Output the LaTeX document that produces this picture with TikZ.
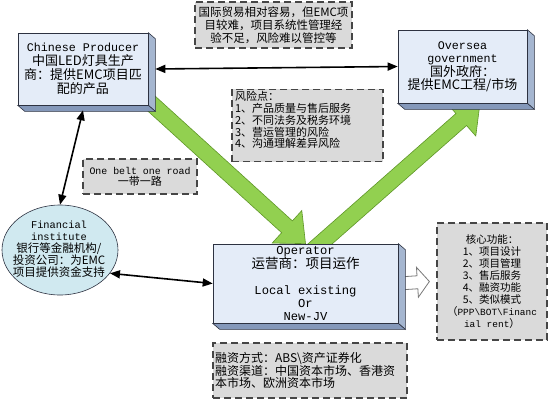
\documentclass[tikz,border=0pt]{standalone}
\usepackage{fontspec}
\setmonofont[Scale=0.9]{Liberation Mono}
\newfontfamily\cjk{Noto Sans CJK SC}
\usetikzlibrary{arrows.meta, shapes.geometric, calc, backgrounds}
\definecolor{boxFront}{RGB}{228,236,248}
\definecolor{sideRight}{RGB}{165,182,208}
\definecolor{sideBottom}{RGB}{132,152,186}
\definecolor{boxEdge}{RGB}{45,50,65}
\definecolor{noteGray}{RGB}{218,218,218}
\definecolor{noteEdge}{RGB}{70,70,70}
\definecolor{finCyan}{RGB}{208,233,240}
\definecolor{arrowGreen}{RGB}{146,208,80}
\definecolor{arrowEdge}{RGB}{95,150,40}
\definecolor{hollowEdge}{RGB}{120,120,120}

\newcommand{\en}[1]{{\ttfamily #1}}
\newcommand{\fsz}[2]{\fontsize{#1}{#2}\selectfont}
% fat arrow: style, tail, tip, half shaft, half head, head length
\newcommand{\fatarrow}[6]{%
  \coordinate (hb) at ($(#3)!#6!(#2)$);
  \filldraw[#1] ($(#2)!#4!90:(#3)$) -- ($(hb)!#4!90:(#3)$) -- ($(hb)!#5!90:(#3)$)
    -- (#3) -- ($(hb)!#5!-90:(#3)$) -- ($(hb)!#4!-90:(#3)$) -- ($(#2)!#4!-90:(#3)$) -- cycle;
}

\begin{document}
\begin{tikzpicture}[x=1pt, y=-1pt,
    slab/.style={draw=boxEdge, fill=boxFront, line width=0.6pt, inner sep=2pt, align=center},
    note/.style={draw=noteEdge, fill=noteGray, line width=1.2pt, dash pattern=on 7pt off 4pt, inner sep=2pt},
    conn/.style={line width=1.6pt, {Triangle[length=10pt,width=8pt]}-{Triangle[length=10pt,width=8pt]}},
    fat/.style={fill=arrowGreen, draw=arrowEdge, line width=0.6pt},
    hollow/.style={fill=white, draw=hollowEdge, line width=0.8pt}]
  \useasboundingbox (0,0) rectangle (550,405);

  % the three parties
  \node[slab, minimum width=130pt, minimum height=72pt, font={\cjk\fsz{13}{14}}] (prod) at (83,69)
    {\en{Chinese Producer}\\中国LED灯具生产\\商：提供EMC项目匹\\配的产品};
  \node[slab, minimum width=129pt, minimum height=73pt, font={\cjk\fsz{13}{13.5}}] (oversea) at (462.5,66.5)
    {\en{Oversea}\\\en{government}\\国外政府：\\提供EMC工程/市场};
  \node[slab, minimum width=185pt, minimum height=77pt, font={\cjk\fsz{13.5}{13}}] (operator) at (305.5,283.5)
    {\en{Operator}\\运营商：项目运作\\[13pt]\en{Local existing}\\\en{Or}\\\en{New-JV}};
  \node[ellipse, draw=boxEdge, fill=finCyan, line width=0.6pt, minimum width=116pt, minimum height=90pt, inner sep=0pt] (finance) at (60,250) {};
  \node[align=center, inner sep=0pt, font={\cjk\fsz{11.5}{12}}] (finlabel) at (59,249)
    {\en{Financial}\\\en{institute}\\银行等金融机构/\\投资公司：为EMC\\项目提供资金支持};

  % notes
  \node[note, minimum width=157pt, minimum height=46pt, align=center, font={\cjk\fsz{11.5}{12.8}}] (trade) at (273.5,25)
    {国际贸易相对容易，但EMC项\\目较难，项目系统性管理经\\验不足，风险难以管控等};
  \node[note, minimum width=151pt, minimum height=71pt, inner xsep=3pt, text width=145pt, align=left, font={\cjk\fsz{11}{11.8}}] (risk) at (307.5,125.5)
    {风险点：\\1、产品质量与售后服务\\2、不同法务及税务环境\\3、营运管理的风险\\4、沟通理解差异风险\\\mbox{}};
  \node[note, minimum width=114pt, minimum height=35pt, align=center, font={\cjk\fsz{11}{11}}] (belt) at (140,176.5)
    {\en{One belt one road}\\一带一路};
  \node[note, minimum width=110pt, minimum height=117pt, align=center, font={\cjk\fsz{10.5}{12}}] (core) at (492,281.5)
    {核心功能：\\1、项目设计\\2、项目管理\\3、售后服务\\4、融资功能\\5、类似模式\\（\en{PPP\textbackslash BOT\textbackslash Financ}\\\en{ial rent}）};
  \node[note, minimum width=194pt, minimum height=55pt, inner xsep=2pt, text width=190pt, align=left, font={\cjk\fsz{12}{12.5}}] (funding) at (310,370.5)
    {融资方式：ABS\textbackslash 资产证券化\\融资渠道：中国资本市场、香港资\\本市场、欧洲资本市场};

  \begin{scope}[on background layer]
    \coordinate (g1tail) at (130,84);
    \coordinate (g2tail) at (312,251);
    \coordinate (g2tip) at (480,103);
    \coordinate (hollowtip) at ([xshift=-7pt]core.west);
    \fatarrow{fat}{g1tail}{operator.north}{8pt}{22pt}{25pt}
    \fatarrow{fat}{g2tail}{g2tip}{8pt}{22pt}{25pt}
    \fatarrow{hollow}{operator.east}{hollowtip}{6.5pt}{15pt}{12pt}
    \foreach \b in {prod,oversea,operator}{
      \filldraw[fill=sideRight, draw=boxEdge, line width=0.6pt] (\b.north east) -- ++(7,6) -- ([shift={(7,6)}]\b.south east) -- (\b.south east) -- cycle;
      \filldraw[fill=sideBottom, draw=boxEdge, line width=0.6pt] (\b.south west) -- (\b.south east) -- ++(7,6) -- ([shift={(7,6)}]\b.south west) -- cycle;
    }
  \end{scope}

  % links
  \draw[conn] ([xshift=7pt]prod.east) -- (oversea.west);
  \draw[conn] ([yshift=-5pt]prod.south) -- (finance.north);
  \draw[conn] (finance.-25) -- (operator.west);
\end{tikzpicture}
\end{document}
